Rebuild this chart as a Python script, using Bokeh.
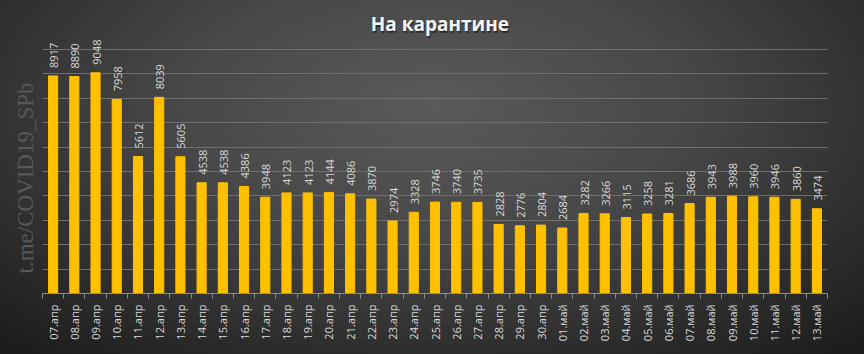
import math
from bokeh.plotting import figure
from bokeh.models import ColumnDataSource, FixedTicker, Label, Range1d, Title
from bokeh.core.properties import value
from bokeh.embed import file_html
from bokeh.resources import INLINE

dates = ["07.апр", "08.апр", "09.апр", "10.апр", "11.апр", "12.апр", "13.апр", "14.апр",
         "15.апр", "16.апр", "17.апр", "18.апр", "19.апр", "20.апр", "21.апр", "22.апр",
         "23.апр", "24.апр", "25.апр", "26.апр", "27.апр", "28.апр", "29.апр", "30.апр",
         "01.май", "02.май", "03.май", "04.май", "05.май", "06.май", "07.май", "08.май",
         "09.май", "10.май", "11.май", "12.май", "13.май"]
counts = [8917, 8890, 9048, 7958, 5612, 8039, 5605, 4538,
          4538, 4386, 3948, 4123, 4123, 4144, 4086, 3870,
          2974, 3328, 3746, 3740, 3735, 2828, 2776, 2804,
          2684, 3282, 3266, 3115, 3258, 3281, 3686, 3943,
          3988, 3960, 3946, 3860, 3474]
grid_values = [0, 1000, 2000, 3000, 4000, 5000, 6000, 7000, 8000, 9000, 10000]
title_text = "На карантине"
watermark = "t.me/COVID19_SPb"

n = len(dates)
xs = [i + 0.5 for i in range(n)]
src = ColumnDataSource(dict(x=xs, y=counts, lab=[str(v) for v in counts]))

p = figure(width=864, height=354, output_backend="svg", toolbar_location=None,
           x_range=Range1d(0, n), y_range=Range1d(0, 12008),
           min_border_left=42, min_border_right=37, min_border_top=0, min_border_bottom=61)
p.styles = {"background": "radial-gradient(ellipse 75% 95% at 50% 30%, #5a5a5a 0%, #474747 40%, #2c2c2c 75%, #1a1a1a 100%)"}
p.background_fill_color = None
p.border_fill_color = None
p.outline_line_color = None

p.vbar(x="x", top="y", width=0.43, source=src, color="#FFC000")
p.text(x="x", y="y", text="lab", source=src, angle=math.pi / 2, y_offset=-8, x_offset=1,
       text_align="left", text_baseline="middle", text_color="#d9d9d9",
       text_font=value("Open Sans"), text_font_size="11px")

# axes
p.yaxis.visible = False
p.ygrid.ticker = FixedTicker(ticks=grid_values)
p.ygrid.grid_line_color = "#6e6e6e"
p.ygrid.grid_line_width = 1
p.xgrid.visible = False

xa = p.xaxis[0]
xa.ticker = FixedTicker(ticks=xs, minor_ticks=list(range(n + 1)))
xa.major_label_overrides = {x: d for x, d in zip(xs, dates)}
xa.major_label_orientation = math.pi / 2
xa.major_tick_out = 0
xa.major_tick_in = 0
xa.minor_tick_out = 5
xa.minor_tick_in = 0
xa.minor_tick_line_color = "#8c8c8c"
xa.axis_line_color = "#8c8c8c"
xa.major_label_text_color = "#d9d9d9"
xa.major_label_text_font = "Open Sans"
xa.major_label_text_font_size = "11px"
xa.major_label_standoff = 6

# title with a soft shadow
p.add_layout(Label(x=18.73, y=11025, x_offset=1, y_offset=-2, text=title_text,
                   text_align="center", text_baseline="middle", text_color="#151515",
                   text_alpha=0.6, text_font="Open Sans", text_font_style="bold",
                   text_font_size="19px"))
p.add_layout(Label(x=18.73, y=11025, text=title_text,
                   text_align="center", text_baseline="middle", text_color="#f5f5f5",
                   text_font="Open Sans", text_font_style="bold", text_font_size="19px"))
p.add_layout(Title(text=watermark, align="left", offset=20, standoff=9,
                   text_color="#585858", text_font="Liberation Serif",
                   text_font_style="normal", text_font_size="23px"), "left")

open("out.html", "w").write(file_html(p, INLINE))
